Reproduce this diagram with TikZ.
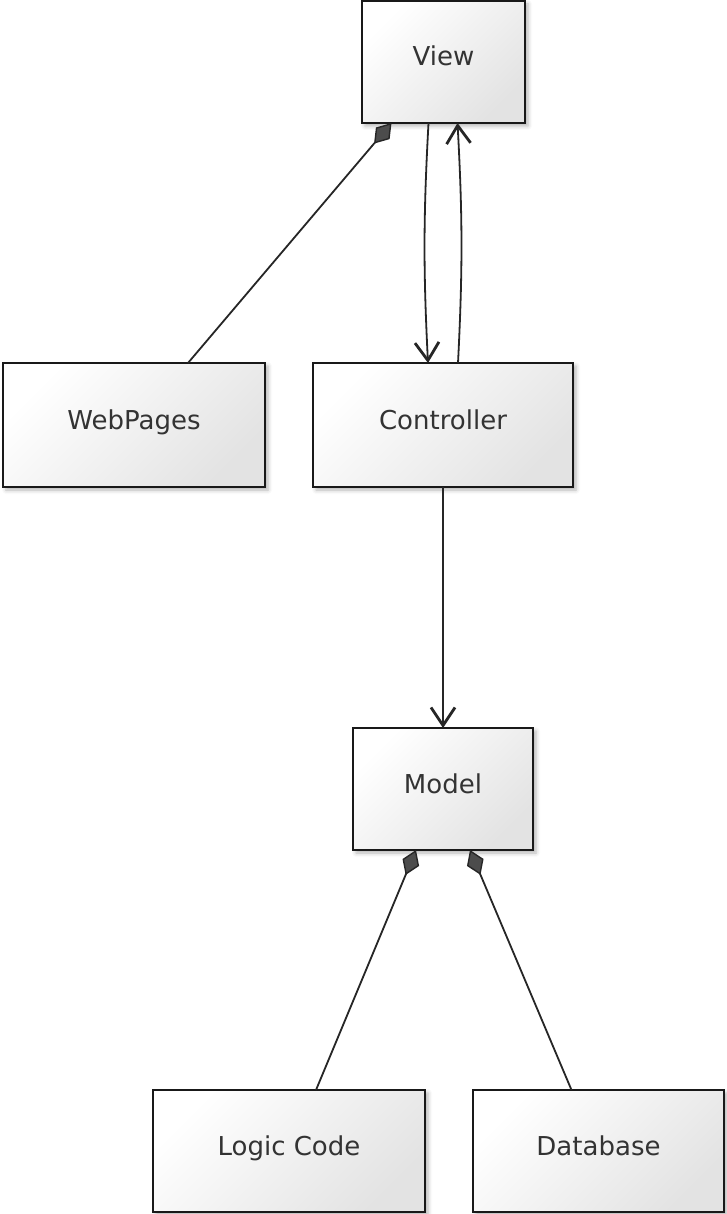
\documentclass[tikz,border=0pt]{standalone}
\usepackage{fontspec}
\setmainfont{DejaVu Sans}
\usetikzlibrary{arrows.meta,shadows.blur}

\begin{document}
\begin{tikzpicture}[x=1pt,y=1pt,
  box/.style={draw=black!90, line width=1.8pt, rectangle, inner sep=0pt, outer sep=0pt,
    top color=white, bottom color=black!11, shading angle=45,
    blur shadow={shadow xshift=3pt, shadow yshift=-3pt, shadow blur radius=4pt, shadow opacity=30},
    font=\fontsize{26}{31}\selectfont, text=black!80, text height=18pt, text depth=10pt},
  link/.style={draw=black!85, line width=1.8pt},
  arrow/.style={link, -{Straight Barb[length=18pt,width=24pt,line width=2.8pt]}},
  part/.style={link, -{Diamond[length=27pt,width=18pt,fill=black!70,line width=1.4pt]}}
]
\useasboundingbox (0,0) rectangle (726,-1214);

% classes
\node[box, minimum width=163pt, minimum height=122pt] (view)       at (443.5,-62)   {View};
\node[box, minimum width=262pt, minimum height=124pt] (webpages)   at (134,-425)    {WebPages};
\node[box, minimum width=260pt, minimum height=124pt] (controller) at (443,-425)    {Controller};
\node[box, minimum width=180pt, minimum height=122pt] (model)      at (443,-789)    {Model};
\node[box, minimum width=272pt, minimum height=122pt] (logic)      at (289,-1151)   {Logic Code};
\node[box, minimum width=251pt, minimum height=122pt] (database)   at (598.5,-1151) {Database};

% dependencies
\draw[arrow] ([xshift=-15pt]view.south) to[bend right=3] ([xshift=-15pt]controller.north);
\draw[arrow] ([xshift=15pt]controller.north) to[bend right=3] ([xshift=14pt]view.south);
\draw[arrow] (controller.south) -- (model.north);

% compositions
\draw[part] ([xshift=54pt]webpages.north) -- ([xshift=-52pt]view.south);
\draw[part] ([xshift=27pt]logic.north) -- ([xshift=-27pt]model.south);
\draw[part] ([xshift=-27pt]database.north) -- ([xshift=27pt]model.south);
\end{tikzpicture}
\end{document}
